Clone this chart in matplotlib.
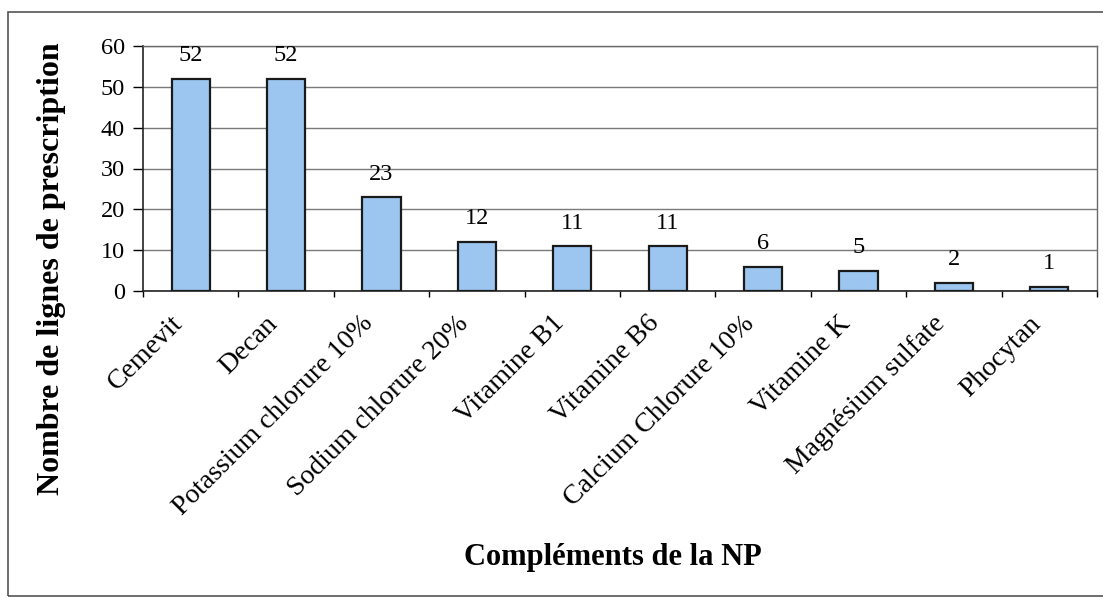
import matplotlib.pyplot as plt
import matplotlib.transforms as mtransforms
import numpy as np
from matplotlib.patches import Rectangle

# donnees
complements = ['Cemevit', 'Decan', 'Potassium chlorure 10%', 'Sodium chlorure 20%',
               'Vitamine B1', 'Vitamine B6', 'Calcium Chlorure 10%', 'Vitamine K',
               'Magnésium sulfate', 'Phocytan']
nb_lignes = [52, 52, 23, 12, 11, 11, 6, 5, 2, 1]
yticks = [0, 10, 20, 30, 40, 50, 60]

plt.rcParams['font.family'] = ['Liberation Serif', 'DejaVu Serif']

W, H = 1103, 598
fig = plt.figure(figsize=(W/100, H/100), dpi=100)
# cadre exterieur (le bord droit sort de l'image)
fig.patches.append(Rectangle((8/W, 2/H), 1.01, 1 - 12/H - 2/H,
                             transform=fig.transFigure, fill=False, ec='#555555', lw=1.2))

ax = fig.add_axes([143/W, 1 - 291/H, (1097 - 143)/W, (291 - 46)/H])
x = np.arange(len(complements))
bars = ax.bar(x, nb_lignes, width=0.4, color='#9CC6F0', edgecolor='#1a1a1a', linewidth=1.6, zorder=3)
for b, v in zip(bars, nb_lignes):
    ax.annotate(str(v), (b.get_x() + b.get_width()/2, v), xytext=(0, 9), textcoords='offset points',
                ha='center', va='bottom', fontsize=17.5, zorder=4)

ax.set_xlim(-0.5, len(complements) - 0.5)
ax.set_ylim(0, 60)
ax.set_yticks(yticks)
ax.yaxis.grid(True, color='#7a7a7a', lw=1, zorder=0)
ax.set_xticks(np.arange(len(complements) + 1) - 0.5)
ax.set_xticklabels([])

# etiquettes inclinees des categories
decal = ax.get_xaxis_transform() + mtransforms.ScaledTranslation(-0.21, -0.20, fig.dpi_scale_trans)
for xi, nom in zip(x, complements):
    ax.text(xi, 0, nom, transform=decal, rotation=45, ha='right', va='top',
            rotation_mode='anchor', fontsize=20, clip_on=False)

ax.tick_params(axis='x', length=4, direction='out', width=1)
ax.tick_params(axis='y', length=7, direction='out', width=1, labelsize=17.5, pad=6)
for s in ['left', 'bottom']:
    ax.spines[s].set_color('#222222')
    ax.spines[s].set_linewidth(1.2)
for s in ['top', 'right']:
    ax.spines[s].set_color('#6a6a6a')
    ax.spines[s].set_linewidth(1)

fig.text(52/W, 1 - 269/H, 'Nombre de lignes de prescription', rotation=90,
         ha='center', va='center', fontsize=23, fontweight='bold')
fig.text(613/W, 1 - 557/H, 'Compléments de la NP', ha='center', va='center',
         fontsize=22, fontweight='bold')

fig.savefig('out.png', dpi=100)
